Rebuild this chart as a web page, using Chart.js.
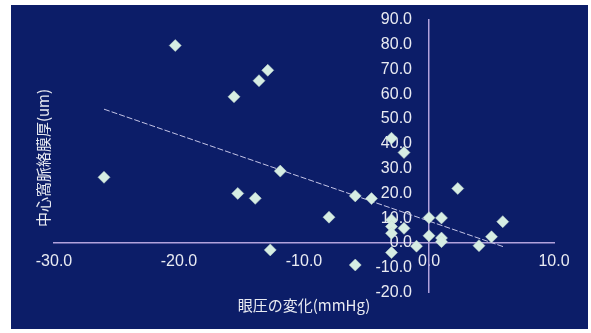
<!DOCTYPE html>
<html>
<head>
<meta charset="utf-8">
<script src="https://cdn.jsdelivr.net/npm/chart.js@4/dist/chart.umd.min.js"></script>
<style>
  html, body { margin: 0; padding: 0; background: #ffffff; }
  #wrap { width: 591px; height: 333px; position: relative; }
  canvas { display: block; }
</style>
</head>
<body>
<div id="wrap"><canvas id="c" width="591" height="333"></canvas></div>
<script>
// Change in IOP (mmHg)
const iopChange = [-26.0, -20.3, -15.6, -15.3, -13.9, -13.6, -12.9, -12.7, -11.9, -8.0,
                   -5.9, -5.9, -4.6, -3.0, -2.0, -3.0, -3.0, -3.0, -3.0, -2.0,
                   -1.0, 0.0, 0.0, 1.0, 1.0, 1.0, 2.3, 4.0, 5.0, 5.9];
// Subfoveal choroidal thickness change (um)
const choroidChange = [26.5, 79.7, 59.0, 20.0, 18.0, 65.5, 69.7, -2.8, 29.0, 10.4,
                       19.0, -8.9, 17.9, 42.3, 36.5, 9.3, 6.6, 3.9, -3.9, 5.9,
                       -1.3, 10.2, 2.9, 10.1, 2.0, 0.5, 22.0, -1.1, 2.5, 8.6];
// Regression line end points
const trendX = [-26.0, 6.0];
const trendY = [54.0, -1.6];
// Tick values
const xTickValues = [-30, -20, -10, 0, 10];
const yTickValues = [-20, -10, 0, 10, 20, 30, 40, 50, 60, 70, 80, 90];
const xTitle = '眼圧の変化(mmHg)';
const yTitle = '中心窩脈絡膜厚(um)';

const NAVY = '#0c1d68';
const TEXT = '#e9ebf2';
const AXIS = '#b2a2dc';
const POINT = '#d6ede3';
const Y_LABEL_GAP = 17;

const scatterData = iopChange.map((x, i) => ({ x: x, y: choroidChange[i] }));
const trendData = trendX.map((x, i) => ({ x: x, y: trendY[i] }));

const bgPlugin = {
  id: 'bg',
  beforeDraw(chart) {
    const ctx = chart.ctx;
    ctx.save();
    ctx.fillStyle = '#ffffff';
    ctx.fillRect(0, 0, chart.width, chart.height);
    ctx.fillStyle = NAVY;
    ctx.fillRect(11, 5, 577, 324);
    ctx.restore();
    // shift y tick labels left of the crossing axis line
    const ys = chart.scales.y;
    const items = ys.getLabelItems(chart.chartArea);
    if (!items._shifted) {
      items.forEach(it => { it.options.translation[0] -= Y_LABEL_GAP; });
      items._shifted = true;
    }
  }
};

const titlePlugin = {
  id: 'axisTitles',
  afterDraw(chart) {
    const ctx = chart.ctx;
    ctx.save();
    ctx.fillStyle = TEXT;
    ctx.font = '15px "Noto Sans CJK JP", sans-serif';
    ctx.textAlign = 'center';
    ctx.textBaseline = 'middle';
    ctx.fillText(xTitle, 304, 305);
    ctx.translate(43, 158);
    ctx.rotate(-Math.PI / 2);
    ctx.fillText(yTitle, 0, 0);
    ctx.restore();
  }
};

new Chart(document.getElementById('c'), {
  type: 'scatter',
  data: {
    datasets: [
      {
        type: 'line',
        data: trendData,
        borderColor: '#c4c4e6',
        borderWidth: 1,
        borderDash: [6, 2],
        pointRadius: 0,
        fill: false,
        order: 2
      },
      {
        data: scatterData,
        pointStyle: 'rectRot',
        pointRadius: 6,
        pointHoverRadius: 6,
        backgroundColor: POINT,
        borderColor: '#c4dccf',
        borderWidth: 0.5,
        order: 1
      }
    ]
  },
  options: {
    responsive: false,
    animation: false,
    devicePixelRatio: 1,
    layout: { padding: { left: 54, right: 37, top: 20, bottom: 40.5 } },
    plugins: {
      legend: { display: false },
      tooltip: { enabled: false },
      title: { display: false }
    },
    scales: {
      x: {
        type: 'linear',
        position: { y: 0 },
        min: -30, max: 10,
        afterBuildTicks(scale) { scale.ticks = xTickValues.map(v => ({ value: v })); },
        grid: { display: false, drawTicks: false },
        border: { display: true, color: AXIS, width: 1.5 },
        ticks: {
          color: TEXT,
          font: { family: '"Liberation Sans", Arial, sans-serif', size: 16 },
          padding: 9,
          maxRotation: 0,
          callback: v => Number(v).toFixed(1)
        }
      },
      y: {
        type: 'linear',
        position: { x: 0 },
        min: -20, max: 90,
        afterBuildTicks(scale) { scale.ticks = yTickValues.map(v => ({ value: v })); },
        grid: { display: false, drawTicks: false },
        border: { display: true, color: AXIS, width: 1.5 },
        ticks: {
          color: TEXT,
          font: { family: '"Liberation Sans", Arial, sans-serif', size: 16 },
          padding: 0,
          callback: v => Number(v).toFixed(1)
        }
      }
    }
  },
  plugins: [bgPlugin, titlePlugin]
});
</script>
</body>
</html>
